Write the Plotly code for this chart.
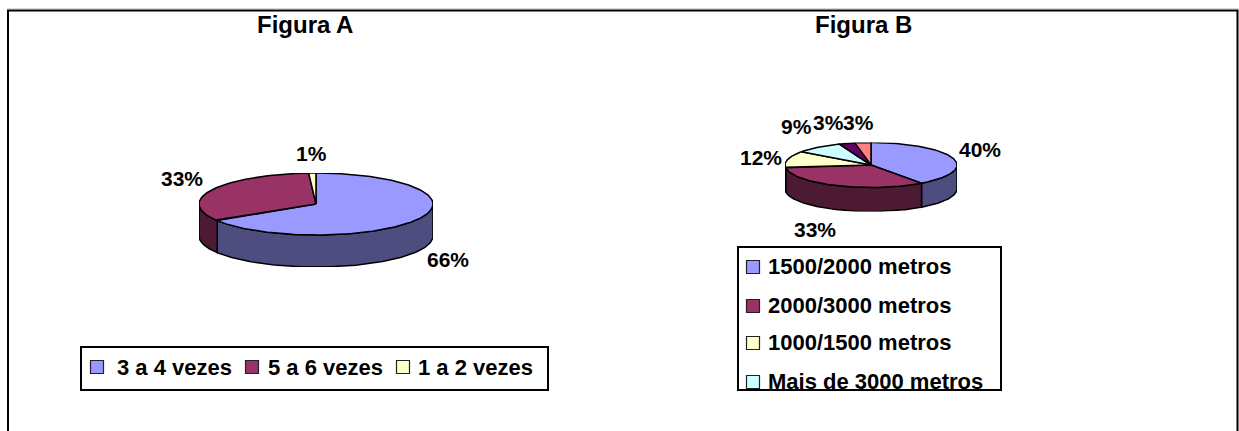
import math
import plotly.graph_objects as go

W, H = 1239, 431
FONT = "Liberation Sans"

# --- data -----------------------------------------------------------------
titles = ["Figura A", "Figura B"]
a_categories = ["3 a 4 vezes", "5 a 6 vezes", "1 a 2 vezes"]
a_values = [66, 33, 1]
b_categories = ["1500/2000 metros", "2000/3000 metros", "1000/1500 metros",
                "Mais de 3000 metros"]
b_values = [40, 33, 12, 9, 3, 3]
top_colors = ["#9999FF", "#993366", "#FFFFCC", "#CCFFFF", "#660066", "#FF8080"]
side_colors = ["#4D4D80", "#4D1A33", "#808066", "#668080", "#330033", "#804040"]

# --- layout constants (pixels) ---------------------------------------------
pie_a = dict(cx=316, cy=204, rx=117, ry=31, depth=32)
pie_b = dict(cx=871, cy=165, rx=86, ry=22.5, depth=24)
a_label_xy = [(448, 259), (182, 178), (311, 153)]
b_label_xy = [(980, 149), (815, 229), (761, 157), (796, 126), (828, 123), (858, 123)]
legend_a_box = (82, 348, 547, 389)
legend_b_box = (739, 248, 1000, 389)
legend_a_keys = [(97, 367), (252, 367), (403, 367)]
legend_a_text = [(117, 369), (268, 369), (418, 369)]
legend_b_keys = [(753, 267), (753, 306), (753, 343), (753, 382)]
legend_b_text = [(768, 268), (768, 307), (768, 344), (768, 383)]


def px(x):
    return x / W


def py(y):
    return 1 - y / H


def arc(t0, t1):
    n = max(2, int(abs(t1 - t0) / 0.02))
    return [t0 + (t1 - t0) * i / n for i in range(n + 1)]


fig = go.Figure()


def add_poly(xs, ys, fill, axis):
    fig.add_trace(go.Scatter(
        x=xs, y=ys, mode="lines", fill="toself", fillcolor=fill,
        line=dict(color="#000000", width=1.5), hoverinfo="skip",
        showlegend=False, cliponaxis=False, xaxis="x" + axis, yaxis="y" + axis))


def add_pie(values, pie, axis):
    total = sum(values)
    drop = -pie["depth"] / pie["ry"]
    angles = [0.0]
    for v in values:
        angles.append(angles[-1] + 2 * math.pi * v / total)
    for i in range(len(values)):
        t0 = max(angles[i], math.pi / 2)
        t1 = min(angles[i + 1], 3 * math.pi / 2)
        if t1 <= t0:
            continue
        ts = arc(t0, t1)
        xs = [math.sin(t) for t in ts] + [math.sin(t) for t in reversed(ts)]
        ys = [math.cos(t) for t in ts] + [math.cos(t) + drop for t in reversed(ts)]
        add_poly(xs + xs[:1], ys + ys[:1], side_colors[i], axis)
    for i in range(len(values)):
        ts = arc(angles[i], angles[i + 1])
        xs = [0] + [math.sin(t) for t in ts] + [0]
        ys = [0] + [math.cos(t) for t in ts] + [0]
        add_poly(xs, ys, top_colors[i], axis)
    return drop


drop_a = add_pie(a_values, pie_a, "")
drop_b = add_pie(b_values, pie_b, "2")


def add_legend(cats, keys, texts, colors, axis, size):
    fig.add_trace(go.Scatter(
        x=[k[0] for k in keys], y=[k[1] for k in keys], mode="markers",
        marker=dict(symbol="square", size=13, color=colors,
                    line=dict(color="#222222", width=1.2)),
        hoverinfo="skip", showlegend=False, xaxis="x" + axis, yaxis="y" + axis))
    fig.add_trace(go.Scatter(
        x=[t[0] for t in texts], y=[t[1] for t in texts], mode="text",
        text=cats, textposition="middle right",
        textfont=dict(family=FONT, size=size, color="#000000", weight="bold"),
        hoverinfo="skip", showlegend=False, xaxis="x" + axis, yaxis="y" + axis))


add_legend(a_categories, legend_a_keys, legend_a_text, top_colors[:3], "3", 22)
add_legend(b_categories, legend_b_keys, legend_b_text, top_colors[:4], "4", 22)


def pie_axes(pie, drop):
    common = dict(visible=False, fixedrange=True)
    return (
        dict(domain=[px(pie["cx"] - pie["rx"]), px(pie["cx"] + pie["rx"])], range=[-1, 1], **common),
        dict(domain=[py(pie["cy"] + pie["ry"] + pie["depth"]), py(pie["cy"] - pie["ry"])],
             range=[-1 + drop, 1], **common),
    )


def legend_axes(box):
    common = dict(showgrid=False, zeroline=False, showticklabels=False, ticks="",
                  showline=True, mirror=True, linecolor="#000000", linewidth=1.5,
                  fixedrange=True)
    x0, y0, x1, y1 = box
    return (
        dict(domain=[px(x0), px(x1)], range=[x0, x1], **common),
        dict(domain=[py(y1), py(y0)], range=[y1, y0], **common),
    )


xa, ya = pie_axes(pie_a, drop_a)
xb, yb = pie_axes(pie_b, drop_b)
xl3, yl3 = legend_axes(legend_a_box)
xl4, yl4 = legend_axes(legend_b_box)
ya["anchor"] = "x"
xa["anchor"] = "y"
yb["anchor"] = "x2"
xb["anchor"] = "y2"
yl3["anchor"] = "x3"
xl3["anchor"] = "y3"
yl4["anchor"] = "x4"
xl4["anchor"] = "y4"

annotations = []


def label(text, x, y, size=21):
    annotations.append(dict(
        text=text, x=px(x), y=py(y), xref="paper", yref="paper", showarrow=False,
        xanchor="center", yanchor="middle",
        font=dict(family=FONT, size=size, color="#000000", weight="bold")))


label(titles[0], 305, 24, 24)
label(titles[1], 863, 24, 24)
for v, (x, y) in zip(a_values, a_label_xy):
    label(f"{round(100 * v / sum(a_values))}%", x, y)
for v, (x, y) in zip(b_values, b_label_xy):
    label(f"{round(100 * v / sum(b_values))}%", x, y)

frame = f"M {px(8)} 0 L {px(8)} {py(10.5)} L {px(1237.5)} {py(10.5)} L {px(1237.5)} 0"

fig.update_layout(
    width=W, height=H, autosize=False,
    margin=dict(l=0, r=0, t=0, b=0, pad=0),
    paper_bgcolor="#FFFFFF", plot_bgcolor="rgba(0,0,0,0)",
    showlegend=False,
    xaxis=xa, yaxis=ya, xaxis2=xb, yaxis2=yb,
    xaxis3=xl3, yaxis3=yl3, xaxis4=xl4, yaxis4=yl4,
    annotations=annotations,
    shapes=[
        dict(type="line", x0=px(7), x1=1, y0=py(8.5), y1=py(8.5), xref="paper", yref="paper",
             line=dict(color="#D9D9D9", width=1)),
        dict(type="path", path=frame, xref="paper", yref="paper",
             line=dict(color="#000000", width=2)),
    ],
)

fig.write_html("out.html", config={"displayModeBar": False},
               post_script="document.body.style.margin='0';document.body.style.overflow='hidden';")
